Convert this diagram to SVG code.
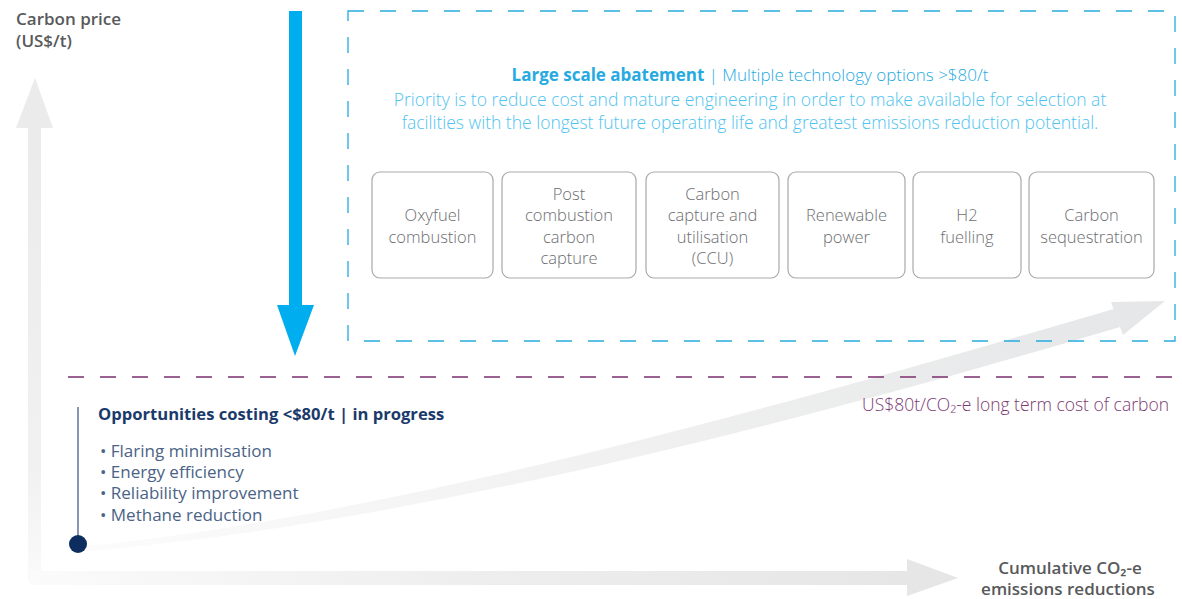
<svg xmlns="http://www.w3.org/2000/svg" width="1182" height="599" viewBox="0 0 1182 599">
<defs>
<linearGradient id="gy" x1="0" y1="0" x2="0" y2="1">
<stop offset="0" stop-color="#ebebeb"/><stop offset="0.75" stop-color="#f1f1f1"/><stop offset="1" stop-color="#fafafa"/>
</linearGradient>
<linearGradient id="gx" x1="0" y1="0" x2="1" y2="0">
<stop offset="0" stop-color="#fbfbfb"/><stop offset="0.5" stop-color="#eeeeee"/><stop offset="1" stop-color="#e6e6e6"/>
</linearGradient>
<linearGradient id="gc" x1="0" y1="0" x2="1" y2="0">
<stop offset="0" stop-color="#fcfcfc"/><stop offset="0.4" stop-color="#f3f3f3"/><stop offset="1" stop-color="#e6e7e8"/>
</linearGradient>
<style>
text{font-family:"Open Sans","Liberation Sans",sans-serif;}
.ax{font-size:17px;font-weight:600;fill:#58595b;}
.bx{fill:#fff;stroke:#a7a9ac;stroke-width:1.2;}
.bt{font-size:16.5px;fill:#6d6e71;text-anchor:middle;font-weight:300;}
.blue{fill:#27aae1;}
.nav{fill:#4a6386;font-size:17px;}
</style>
</defs>

<g id="axes">
<path d="M28,128 L41,128 L41,582 L28,582 Z" fill="url(#gy)"/>
<polygon points="16,128 35,78 53,128" fill="#ebebeb"/>
<path d="M30,571 L907,571 L907,585 L30,585 Z" fill="url(#gx)"/>
<polygon points="907,559 958,578 907,596" fill="#e6e6e6"/>
<text class="ax" x="1070" y="574" text-anchor="middle" font-size="16">Cumulative CO₂-e</text>
<text class="ax" x="1068" y="595" text-anchor="middle" font-size="16">emissions reductions</text>
<text class="ax" x="16" y="25">Carbon price</text>
<text class="ax" x="16" y="47">(US$/t)</text>
</g>

<g id="connectors">
<path d="M70,548 C400,516 800,400 1114,309 L1120,327 C800,422 400,526 78,552 Z" fill="url(#gc)"/>
<polygon points="1111,302 1165,301 1123,335" fill="#e6e7e8"/>
<rect x="289" y="11" width="13" height="295" fill="#00adef"/>
<polygon points="277,305 314,305 295,356" fill="#00adef"/>
<line x1="68" y1="377" x2="1175" y2="377" stroke="#7b2f6e" stroke-width="1.3" stroke-dasharray="16,16"/>
<line x1="78" y1="407" x2="78" y2="538" stroke="#5f7595" stroke-width="1.5"/>
<circle cx="78" cy="544" r="9" fill="#0d2d5e"/>
</g>

<g id="large-scale">
<rect x="348" y="11" width="827" height="330" fill="none" stroke="#27aae1" stroke-width="1.3" stroke-dasharray="16,16"/>
<text x="750" y="81" text-anchor="middle" font-size="17"><tspan class="blue" font-weight="700">Large scale abatement</tspan><tspan class="blue" font-weight="300"> | Multiple technology options &gt;$80/t</tspan></text>
<text x="750" y="106" text-anchor="middle" font-size="17.5" fill="#4fc3f0" font-weight="300">Priority is to reduce cost and mature engineering in order to make available for selection at</text>
<text x="750" y="129" text-anchor="middle" font-size="17.5" fill="#4fc3f0" font-weight="300">facilities with the longest future operating life and greatest emissions reduction potential.</text>
</g>

<g id="oxyfuel"><rect class="bx" x="372" y="172" width="121" height="106" rx="8"/>
<text class="bt" x="432.5" y="221">Oxyfuel</text><text class="bt" x="432.5" y="243">combustion</text></g>
<g id="post-combustion"><rect class="bx" x="502" y="172" width="134" height="106" rx="8"/>
<text class="bt" x="569" y="200">Post</text><text class="bt" x="569" y="221">combustion</text><text class="bt" x="569" y="243">carbon</text><text class="bt" x="569" y="264">capture</text></g>
<g id="ccu"><rect class="bx" x="646" y="172" width="133" height="106" rx="8"/>
<text class="bt" x="712.5" y="200">Carbon</text><text class="bt" x="712.5" y="221">capture and</text><text class="bt" x="712.5" y="243">utilisation</text><text class="bt" x="712.5" y="264">(CCU)</text></g>
<g id="renewable"><rect class="bx" x="788" y="172" width="117" height="106" rx="8"/>
<text class="bt" x="846.5" y="221">Renewable</text><text class="bt" x="846.5" y="243">power</text></g>
<g id="h2"><rect class="bx" x="913" y="172" width="108" height="106" rx="8"/>
<text class="bt" x="967" y="221">H2</text><text class="bt" x="967" y="243">fuelling</text></g>
<g id="sequestration"><rect class="bx" x="1029" y="172" width="125" height="106" rx="8"/>
<text class="bt" x="1091.5" y="221">Carbon</text><text class="bt" x="1091.5" y="243">sequestration</text></g>

<g id="long-term">
<text x="1169" y="411" text-anchor="end" font-size="17.5" fill="#7b3a72" font-weight="300">US$80t/CO₂-e long term cost of carbon</text>
</g>

<g id="opportunities">
<text x="98" y="420" font-size="16.6" font-weight="700" fill="#1b3a6b">Opportunities costing &lt;$80/t | in progress</text>
<text class="nav" x="100" y="457">• Flaring minimisation</text>
<text class="nav" x="100" y="478">• Energy efficiency</text>
<text class="nav" x="100" y="499">• Reliability improvement</text>
<text class="nav" x="100" y="521">• Methane reduction</text>
</g>
</svg>
